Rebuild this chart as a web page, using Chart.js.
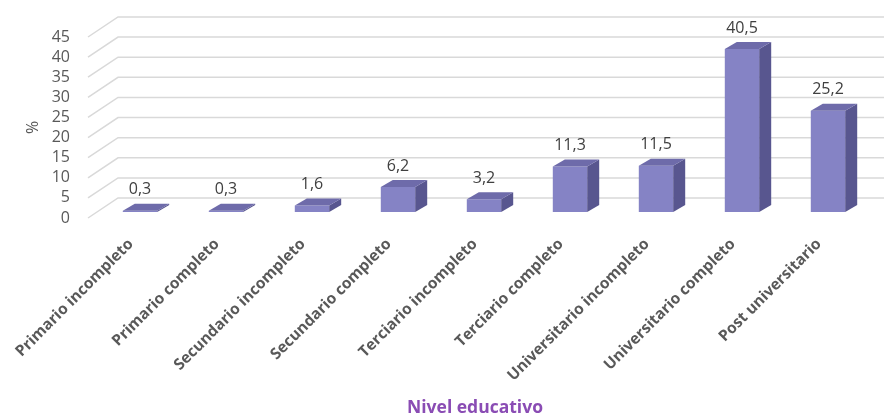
<!DOCTYPE html>
<html>
<head>
<meta charset="utf-8">
<script src="https://cdn.jsdelivr.net/npm/chart.js@4/dist/chart.umd.min.js"></script>
<style>
  html, body { margin: 0; padding: 0; background: #ffffff; }
  #wrap { width: 884px; height: 419px; position: relative; }
</style>
</head>
<body>
<div id="wrap"><canvas id="c" width="884" height="419"></canvas></div>
<script>
const categories = [
  'Primario incompleto',
  'Primario completo',
  'Secundario incompleto',
  'Secundario completo',
  'Terciario incompleto',
  'Terciario completo',
  'Universitario incompleto',
  'Universitario completo',
  'Post universitario'
];
const percentValues = [0.3, 0.3, 1.6, 6.2, 3.2, 11.3, 11.5, 40.5, 25.2];
const yTickValues = [0, 5, 10, 15, 20, 25, 30, 35, 40, 45];
const yAxisTitle = '%';
const xAxisTitle = 'Nivel educativo';

const FRONT = '#8583C5', SIDE = '#58568F', TOP = '#6E6BAA';
const WALL_DX = 30, WALL_DY = 20;      // perspective of the back wall
const FACE_DX = 9, FACE_DY = 6;        // front face plane offset
const DEPTH_DX = 12, DEPTH_DY = 7;     // bar depth

const fmt = v => v.toFixed(1).replace('.', ',');

const threeD = {
  id: 'threeD',
  beforeDatasetsDraw(chart) {
    const ctx = chart.ctx, area = chart.chartArea, y = chart.scales.y;
    ctx.save();
    ctx.strokeStyle = '#D9D9D9';
    ctx.lineWidth = 1.5;
    y.ticks.forEach(t => {
      const py = y.getPixelForValue(t.value);
      ctx.beginPath();
      ctx.moveTo(area.left, py);
      ctx.lineTo(area.left + WALL_DX, py - WALL_DY);
      ctx.lineTo(chart.width + 5, py - WALL_DY);
      ctx.stroke();
    });
    ctx.restore();
    ctx.save();
    ctx.translate(FACE_DX, -FACE_DY);
  },
  afterDatasetsDraw(chart) {
    const ctx = chart.ctx;
    const meta = chart.getDatasetMeta(0);
    meta.data.forEach(bar => {
      const l = bar.x - bar.width / 2, r = bar.x + bar.width / 2;
      const t = Math.min(bar.y, bar.base), b = Math.max(bar.y, bar.base);
      ctx.fillStyle = SIDE;
      ctx.beginPath();
      ctx.moveTo(r, t); ctx.lineTo(r + DEPTH_DX, t - DEPTH_DY);
      ctx.lineTo(r + DEPTH_DX, b - DEPTH_DY); ctx.lineTo(r, b);
      ctx.closePath(); ctx.fill();
      ctx.fillStyle = TOP;
      ctx.beginPath();
      ctx.moveTo(l, t); ctx.lineTo(l + DEPTH_DX, t - DEPTH_DY);
      ctx.lineTo(r + DEPTH_DX, t - DEPTH_DY); ctx.lineTo(r, t);
      ctx.closePath(); ctx.fill();
    });
    ctx.fillStyle = '#404040';
    ctx.font = '16px "Open Sans"';
    ctx.textAlign = 'center';
    ctx.textBaseline = 'middle';
    meta.data.forEach((bar, i) => {
      const t = Math.min(bar.y, bar.base);
      ctx.fillText(fmt(percentValues[i]), bar.x, t - DEPTH_DY - 14);
    });
    ctx.restore();
  }
};

new Chart(document.getElementById('c'), {
  type: 'bar',
  data: {
    labels: categories,
    datasets: [{
      data: percentValues,
      backgroundColor: FRONT,
      borderWidth: 0,
      barPercentage: 0.4,
      categoryPercentage: 1.0,
      clip: false
    }]
  },
  options: {
    responsive: false,
    animation: false,
    events: [],
    layout: { padding: { top: 37, right: 22, left: 0, bottom: 0 } },
    plugins: { legend: { display: false }, tooltip: { enabled: false } },
    scales: {
      x: {
        grid: { display: false, drawTicks: false },
        border: { display: false },
        ticks: {
          autoSkip: false, minRotation: 45, maxRotation: 45, padding: 17,
          color: '#595959', font: { family: 'Open Sans', size: 15.5, weight: 'bold' }
        },
        title: {
          display: true, text: xAxisTitle, color: '#8A4CB4',
          font: { family: 'Open Sans', size: 17.5, weight: 'bold' },
          padding: { top: 0, bottom: 0 }
        },
        afterFit(s) { s.height = 201; s.paddingLeft = 0; s.paddingRight = 0; }
      },
      y: {
        min: 0, max: 45,
        afterBuildTicks(s) { s.ticks = yTickValues.map(v => ({ value: v })); },
        grid: { display: false, drawTicks: false },
        border: { display: false },
        ticks: { autoSkip: false, padding: 18, color: '#595959', font: { family: 'Open Sans', size: 16 } },
        title: {
          display: true, text: yAxisTitle, color: '#595959',
          font: { family: 'Open Sans', size: 16 },
          padding: { top: 24, bottom: 0 }
        },
        afterFit(s) { s.width = 88; s.paddingTop = 0; s.paddingBottom = 0; }
      }
    }
  },
  plugins: [threeD]
});
</script>
</body>
</html>
